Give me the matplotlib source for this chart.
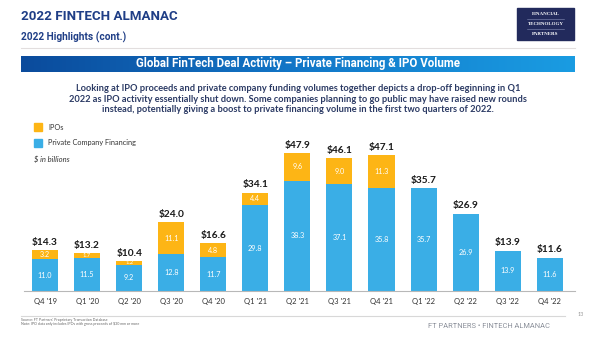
import matplotlib
matplotlib.use("Agg")
import matplotlib.pyplot as plt
import numpy as np
from matplotlib.patches import Rectangle
from matplotlib.colors import LinearSegmentedColormap

# Quarterly FinTech deal volume ($ in billions)
quarters = ["Q4 '19", "Q1 '20", "Q2 '20", "Q3 '20", "Q4 '20", "Q1 '21", "Q2 '21",
            "Q3 '21", "Q4 '21", "Q1 '22", "Q2 '22", "Q3 '22", "Q4 '22"]
private_financing = [11.0, 11.5, 9.2, 12.8, 11.7, 29.8, 38.3, 37.1, 35.8, 35.7, 26.9, 13.9, 11.6]
ipos = [3.2, 1.7, 1.2, 11.1, 4.8, 4.4, 9.6, 9.0, 11.3, 0.0, 0.0, 0.0, 0.0]
totals = [14.3, 13.2, 10.4, 24.0, 16.6, 34.1, 47.9, 46.1, 47.1, 35.7, 26.9, 13.9, 11.6]

BLUE = "#3aaee6"
ORANGE = "#fdb515"
NAVY = "#1f3e86"
TEXT = "#2b3a64"

W, H = 600, 337
fig = plt.figure(figsize=(6.0, 3.37), dpi=100)
fig.patch.set_facecolor("white")


def px(x, y):
    """Pixel (from top-left) to figure fraction."""
    return x / W, 1 - y / H


# Background layer in pixel coordinates
bg = fig.add_axes([0, 0, 1, 1], zorder=-1)
bg.set_xlim(0, W)
bg.set_ylim(H, 0)
bg.axis("off")

# Page header
bg.text(21, 16, "2022 FINTECH ALMANAC", fontsize=9.6, fontweight="bold",
        color=NAVY, family="Roboto", va="center", ha="left")
bg.text(21, 37, "2022 Highlights (cont.)", fontsize=7.3, fontweight="bold",
        color=NAVY, family="Roboto", va="center", ha="left")
bg.plot([21, 575], [48, 48], color="#e2dede", lw=0.8)

# Logo box
bg.add_patch(Rectangle((517, 8), 57, 32, color="#222a5c"))
for yy, word in [(14, "FINANCIAL"), (24, "TECHNOLOGY"), (34, "PARTNERS")]:
    bg.text(545.5, yy, word, color="white", fontsize=3.6, ha="center", va="center",
            family="Liberation Serif", fontweight="bold")
bg.plot([527, 564], [19, 19], color="#8890b8", lw=0.4)
bg.plot([527, 564], [29, 29], color="#8890b8", lw=0.4)

# Gradient title band
grad = np.linspace(0, 1, 256).reshape(1, -1)
cmap = LinearSegmentedColormap.from_list("band", ["#0b4b9c", "#1277c8", "#1a9ce2"])
bg.imshow(grad, extent=(21, 575, 72, 56), cmap=cmap, aspect="auto", zorder=1)
bg.text(298, 64, "Global FinTech Deal Activity \u2013 Private Financing & IPO Volume",
        color="white", fontsize=8.3, fontweight="bold", family="Roboto",
        ha="center", va="center", zorder=2)

desc = ("Looking at IPO proceeds and private company funding volumes together depicts a drop-off beginning in Q1\n"
        "2022 as IPO activity essentially shut down. Some companies planning to go public may have raised new rounds\n"
        "instead, potentially giving a boost to private financing volume in the first two quarters of 2022.")
bg.text(298, 99, desc, color=TEXT, fontsize=6.65, fontweight="bold", family="Lato",
        ha="center", va="center", linespacing=1.25)

# Legend
bg.add_patch(Rectangle((34, 123), 7.5, 7.5, color=ORANGE))
bg.add_patch(Rectangle((34, 139), 7.5, 7.5, color=BLUE))
bg.text(48, 127, "IPOs", fontsize=5.3, color="#333333", family="Lato", va="center")
bg.text(48, 143, "Private Company Financing", fontsize=5.3, color="#333333",
        family="Lato", va="center")
bg.text(34, 159, "$ in billions", fontsize=5.5, color="#333333", family="Lato",
        style="italic", va="center")

# Footer
bg.plot([21, 565], [316, 316], color="#d8d8d8", lw=0.8)
bg.text(578, 314, "13", fontsize=4, color="#999999", family="Lato", va="center")
bg.text(21, 320.5, "Source: FT Partners' Proprietary Transaction Database",
        fontsize=2.6, color="#666666", family="Lato", va="center")
bg.text(21, 324.5, "Note: IPO data only includes IPOs with gross proceeds of $30 mm or more",
        fontsize=2.6, color="#666666", family="Lato", va="center")
bg.text(489, 326, "FT PARTNERS \u2022 FINTECH ALMANAC", fontsize=5.4, color="#8a8f99",
        family="Roboto", ha="center", va="center")

# Chart
left, right, base, top = 24, 575, 291, 141
fx0, fy0 = px(left, base)
fx1, fy1 = px(right, top)
ax = fig.add_axes([fx0, fy0, fx1 - fx0, fy1 - fy0])
ymax = (base - top) / 2.88
x = np.arange(len(quarters))
ax.set_xlim(-0.5, 12.6)
ax.set_ylim(0, ymax)
width = 0.62
ax.bar(x, private_financing, width, color=BLUE, zorder=2)
ax.bar(x, ipos, width, bottom=private_financing, color=ORANGE, zorder=2)

for i in range(len(quarters)):
    ax.text(x[i], private_financing[i] / 2, f"{private_financing[i]:.1f}", color="white",
            fontsize=5.2, ha="center", va="center", family="Lato")
    if ipos[i] > 0:
        fs = 5.2 if ipos[i] > 2 else 4.2
        ax.text(x[i], private_financing[i] + ipos[i] / 2, f"{ipos[i]:.1f}", color="white",
                fontsize=fs, ha="center", va="center", family="Lato")
    top_val = private_financing[i] + ipos[i]
    ax.annotate(f"${totals[i]:.1f}", (x[i], top_val), xytext=(0, 2.5),
                textcoords="offset points", ha="center", va="bottom",
                fontsize=7.3, fontweight="bold", color="#1a1a1a", family="Lato")

for s in ["top", "right", "left"]:
    ax.spines[s].set_visible(False)
ax.spines["bottom"].set_color("#b8b8b8")
ax.spines["bottom"].set_linewidth(0.8)
ax.set_yticks([])
ax.set_xticks(x)
ax.set_xticklabels(quarters, fontsize=5.5, color="#333333", family="Lato")
ax.tick_params(axis="x", length=0, pad=5)
ax.patch.set_alpha(0)

fig.savefig("out.png", dpi=100)
